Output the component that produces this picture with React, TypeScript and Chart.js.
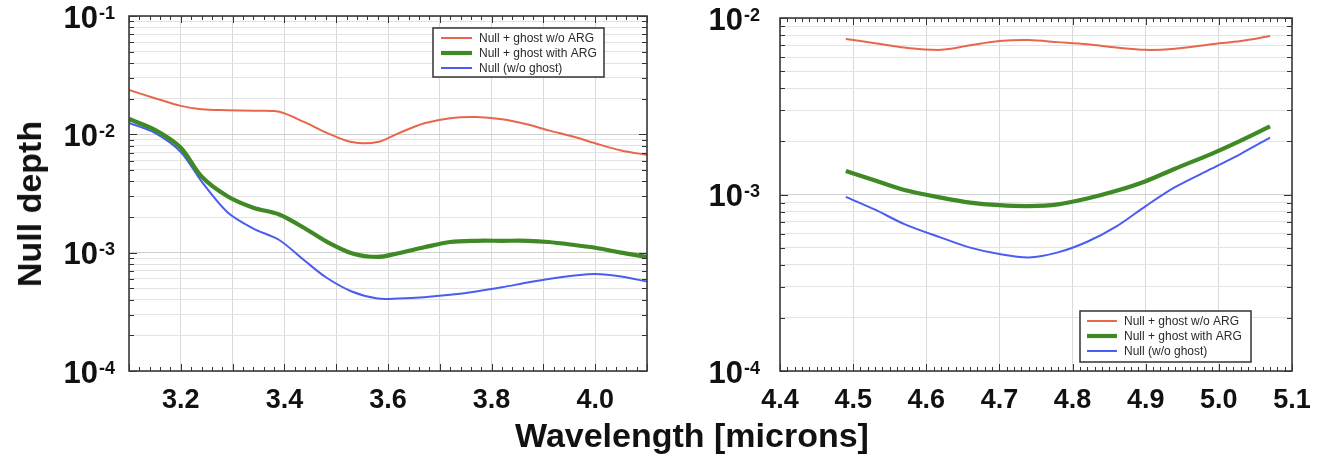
import React, { useEffect, useRef } from 'react';
import { Chart, registerables } from 'chart.js';

Chart.register(...registerables);

const FONT = "'Liberation Sans', Arial, Helvetica, sans-serif";

// ---------- data ----------
const seriesLabels = ['Null + ghost w/o ARG', 'Null + ghost with ARG', 'Null (w/o ghost)'];

// Left panel (L band)
const leftWavelengths = [3.1, 3.15, 3.2, 3.24, 3.29, 3.34, 3.39, 3.44, 3.48, 3.53, 3.58, 3.62, 3.67, 3.72, 3.77, 3.82, 3.87, 3.91, 3.96, 4.0, 4.05, 4.1];
const leftGhostNoArg = [0.0237, 0.0202, 0.0174, 0.0163, 0.016, 0.0158, 0.0155, 0.0126, 0.0104, 0.0086, 0.0086, 0.0102, 0.0124, 0.0137, 0.014, 0.0134, 0.0121, 0.0108, 0.0095, 0.0084, 0.0073, 0.0067];
const leftGhostWithArg = [0.0135, 0.0109, 0.0077, 0.0044, 0.003, 0.0024, 0.0021, 0.0016, 0.00125, 0.00099, 0.00092, 0.00099, 0.00111, 0.00123, 0.00126, 0.00126, 0.00126, 0.00123, 0.00116, 0.0011, 0.001, 0.00092];
const leftNoGhost = [0.0125, 0.0103, 0.0071, 0.004, 0.0022, 0.0016, 0.00128, 0.00085, 0.00062, 0.00047, 0.00041, 0.00041, 0.00042, 0.00044, 0.00047, 0.00051, 0.00056, 0.0006, 0.00064, 0.00066, 0.00063, 0.00057];

// Right panel (M band)
const rightWavelengths = [4.49, 4.53, 4.57, 4.62, 4.66, 4.7, 4.74, 4.78, 4.82, 4.86, 4.9, 4.94, 4.99, 5.03, 5.07];
const rightGhostNoArg = [0.0076, 0.0072, 0.0068, 0.0066, 0.007, 0.0074, 0.0075, 0.0073, 0.0071, 0.0068, 0.0066, 0.0067, 0.0071, 0.0074, 0.0079];
const rightGhostWithArg = [0.00136, 0.0012, 0.00106, 0.00096, 0.0009, 0.00087, 0.00086, 0.00088, 0.00095, 0.00105, 0.00119, 0.0014, 0.0017, 0.00202, 0.00243];
const rightNoGhost = [0.00097, 0.00082, 0.00068, 0.00057, 0.0005, 0.00046, 0.00044, 0.00047, 0.00054, 0.00066, 0.00086, 0.0011, 0.0014, 0.0017, 0.0021];

// tick labels
const leftXTickLabels = ['3.2', '3.4', '3.6', '3.8', '4.0'];
const rightXTickLabels = ['4.4', '4.5', '4.6', '4.7', '4.8', '4.9', '5.0', '5.1'];
const leftYDecades = [-4, -3, -2, -1];
const rightYDecades = [-4, -3, -2];

// ---------- styles ----------
const seriesColors = ['#E8674C', '#3F8A24', '#4B5DF0'];
const seriesWidths = [2, 4.2, 2];

type PanelCfg = {
  xs: number[];
  series: number[][];
  xMin: number;
  xMax: number;
  xGridStep: number;
  xMinorStep: number;
  xLabels: string[];
  yDecades: number[];
  axisWidth: number;
  padTop: number;
  padRight: number;
  labelRight: number;
  legend: { corner: 'tr' | 'br'; dx: number; dy: number; w: number; h: number; sx0: number; sx1: number; tx: number };
};

function makeDecor(cfg: PanelCfg) {
  return {
    id: 'decor',
    afterDatasetsDraw(chart: any) {
      const { ctx, chartArea: a, scales } = chart;
      const x = scales.x;
      const y = scales.y;
      ctx.save();
      ctx.strokeStyle = '#333';
      ctx.lineWidth = 1;
      const seg = (x0: number, y0: number, x1: number, y1: number) => {
        ctx.beginPath();
        ctx.moveTo(x0, y0);
        ctx.lineTo(x1, y1);
        ctx.stroke();
      };
      // x ticks (inward, top & bottom)
      const n = Math.round((cfg.xMax - cfg.xMin) / cfg.xMinorStep);
      const ratio = Math.round(cfg.xGridStep / cfg.xMinorStep);
      for (let i = 0; i <= n; i++) {
        const v = cfg.xMin + i * cfg.xMinorStep;
        const px = Math.round(x.getPixelForValue(v)) + 0.5;
        const len = i % ratio === 0 ? 7 : 4;
        seg(px, a.bottom, px, a.bottom - len);
        seg(px, a.top, px, a.top + len);
      }
      // y ticks (inward, left & right)
      for (const t of y.ticks) {
        const py = Math.round(y.getPixelForValue(t.value)) + 0.5;
        const lg = Math.log10(t.value);
        const len = Math.abs(lg - Math.round(lg)) < 1e-6 ? 8 : 5;
        seg(a.left, py, a.left + len, py);
        seg(a.right, py, a.right - len, py);
      }
      // frame
      ctx.lineWidth = 1.6;
      ctx.strokeStyle = '#3a3a3a';
      ctx.strokeRect(a.left, a.top, a.right - a.left, a.bottom - a.top);
      // y decade labels 10^n
      ctx.fillStyle = '#111';
      for (const e of cfg.yDecades) {
        const py = y.getPixelForValue(Math.pow(10, e));
        const expStr = '-' + Math.abs(e);
        ctx.font = `bold 18px ${FONT}`;
        ctx.textAlign = 'right';
        ctx.textBaseline = 'alphabetic';
        const ew = ctx.measureText(expStr).width;
        ctx.fillText(expStr, cfg.labelRight, py + 2.5);
        ctx.font = `bold 31px ${FONT}`;
        ctx.fillText('10', cfg.labelRight - ew - 1, py + 11.5);
      }
      ctx.restore();
    },
    afterDraw(chart: any) {
      const { ctx, chartArea: a } = chart;
      const L = cfg.legend;
      const bx = a.right - L.dx - L.w;
      const by = L.corner === 'tr' ? a.top + L.dy : a.bottom - L.dy - L.h;
      ctx.save();
      ctx.fillStyle = '#fff';
      ctx.fillRect(bx, by, L.w, L.h);
      ctx.strokeStyle = '#333';
      ctx.lineWidth = 1.5;
      ctx.strokeRect(bx, by, L.w, L.h);
      chart.data.datasets.forEach((ds: any, i: number) => {
        const ry = by + 10 + i * 15;
        ctx.strokeStyle = ds.borderColor;
        ctx.lineWidth = ds.borderWidth;
        ctx.beginPath();
        ctx.moveTo(bx + L.sx0, ry);
        ctx.lineTo(bx + L.sx1, ry);
        ctx.stroke();
        ctx.fillStyle = '#2a2a2a';
        ctx.font = `12px ${FONT}`;
        ctx.textAlign = 'left';
        ctx.textBaseline = 'middle';
        ctx.fillText(ds.label, bx + L.tx, ry + 0.5);
      });
      ctx.restore();
    },
  };
}

function buildChart(canvas: HTMLCanvasElement, cfg: PanelCfg) {
  const minExp = Math.min(...cfg.yDecades);
  const maxExp = Math.max(...cfg.yDecades);
  return new Chart(canvas, {
    type: 'line',
    data: {
      datasets: seriesLabels.map((label, i) => ({
        label,
        data: cfg.xs.map((xv, j) => ({ x: xv, y: cfg.series[i][j] })),
        borderColor: seriesColors[i],
        borderWidth: seriesWidths[i],
        pointRadius: 0,
        tension: 0.3,
        fill: false,
      })),
    },
    options: {
      responsive: false,
      animation: false,
      events: [],
      layout: { padding: { top: cfg.padTop, right: cfg.padRight, bottom: 0, left: 0 } },
      plugins: { legend: { display: false }, tooltip: { enabled: false }, title: { display: false } },
      scales: {
        x: {
          type: 'linear',
          min: cfg.xMin,
          max: cfg.xMax,
          afterBuildTicks: (s: any) => {
            const ticks = [];
            const m = Math.round((cfg.xMax - cfg.xMin) / cfg.xGridStep);
            for (let i = 0; i <= m; i++) ticks.push({ value: Math.round((cfg.xMin + i * cfg.xGridStep) * 1000) / 1000 });
            s.ticks = ticks;
          },
          afterFit: (s: any) => {
            s.height = 94;
          },
          grid: { color: '#d9d9d9', lineWidth: 1, drawTicks: false },
          border: { display: false },
          ticks: {
            padding: 13,
            autoSkip: false,
            maxRotation: 0,
            color: '#111',
            font: { family: FONT, size: 27, weight: 'bold' },
            callback: (v: any) => {
              const s = Number(v).toFixed(1);
              return cfg.xLabels.includes(s) ? s : '';
            },
          },
        },
        y: {
          type: 'logarithmic',
          min: Math.pow(10, minExp),
          max: Math.pow(10, maxExp),
          afterBuildTicks: (s: any) => {
            const ticks = [];
            for (let e = minExp; e < maxExp; e++) {
              for (let m = 1; m <= 9; m++) ticks.push({ value: m * Math.pow(10, e) });
            }
            ticks.push({ value: Math.pow(10, maxExp) });
            s.ticks = ticks;
          },
          afterFit: (s: any) => {
            s.width = cfg.axisWidth;
          },
          grid: {
            drawTicks: false,
            lineWidth: 1,
            color: (c: any) => {
              const lg = Math.log10(c.tick?.value ?? 1);
              return Math.abs(lg - Math.round(lg)) < 1e-6 ? '#cfcfcf' : '#e3e3e3';
            },
          },
          border: { display: false },
          ticks: { display: false },
        },
      },
    } as any,
    plugins: [makeDecor(cfg) as any],
  });
}

const leftCfg: PanelCfg = {
  xs: leftWavelengths,
  series: [leftGhostNoArg, leftGhostWithArg, leftNoGhost],
  xMin: 3.1,
  xMax: 4.1,
  xGridStep: 0.1,
  xMinorStep: 0.02,
  xLabels: leftXTickLabels,
  yDecades: leftYDecades,
  axisWidth: 129,
  padTop: 16,
  padRight: 13,
  labelRight: 115,
  legend: { corner: 'tr', dx: 43, dy: 12, w: 171, h: 49, sx0: 8, sx1: 39, tx: 46 },
};

const rightCfg: PanelCfg = {
  xs: rightWavelengths,
  series: [rightGhostNoArg, rightGhostWithArg, rightNoGhost],
  xMin: 4.4,
  xMax: 5.1,
  xGridStep: 0.1,
  xMinorStep: 0.01,
  xLabels: rightXTickLabels,
  yDecades: rightYDecades,
  axisWidth: 120,
  padTop: 18,
  padRight: 35,
  labelRight: 100,
  legend: { corner: 'br', dx: 41, dy: 9, w: 171, h: 51, sx0: 7, sx1: 37, tx: 44 },
};

function Panel({ cfg, left, width }: { cfg: PanelCfg; left: number; width: number }) {
  const ref = useRef<HTMLCanvasElement | null>(null);
  useEffect(() => {
    if (!ref.current) return;
    const chart = buildChart(ref.current, cfg);
    return () => chart.destroy();
  }, [cfg]);
  return (
    <canvas
      ref={ref}
      width={width}
      height={465}
      style={{ position: 'absolute', left, top: 0, width, height: 465 }}
    />
  );
}

export default function App() {
  return (
    <div style={{ position: 'absolute', left: 0, top: 0, width: 1327, height: 465, background: '#fff', overflow: 'hidden' }}>
      <Panel cfg={leftCfg} left={0} width={660} />
      <Panel cfg={rightCfg} left={660} width={667} />
      <div
        style={{
          position: 'absolute',
          left: 29,
          top: 204,
          transform: 'translate(-50%, -50%) rotate(-90deg)',
          font: `bold 34px ${FONT}`,
          lineHeight: '34px',
          whiteSpace: 'nowrap',
          color: '#111',
        }}
      >
        Null depth
      </div>
      <div
        style={{
          position: 'absolute',
          left: 692,
          top: 418,
          transform: 'translateX(-50%)',
          font: `bold 34px ${FONT}`,
          lineHeight: '34px',
          whiteSpace: 'nowrap',
          color: '#111',
        }}
      >
        Wavelength [microns]
      </div>
    </div>
  );
}
